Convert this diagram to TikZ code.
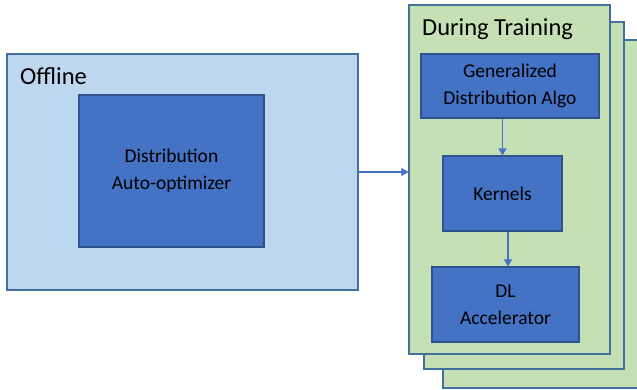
\documentclass[tikz,border=0pt]{standalone}
\usepackage{fontspec}
\setmainfont{Carlito}
\usetikzlibrary{arrows.meta}
\definecolor{lightblue}{HTML}{BDD7EE}
\definecolor{darkblue}{HTML}{4472C4}
\definecolor{edgeblue}{HTML}{41719C}
\definecolor{boxedge}{HTML}{2F528F}
\definecolor{lightgreen}{HTML}{C5E0B4}
\tikzset{
  panel/.style={draw=edgeblue, line width=1.1pt, fill=lightgreen, inner sep=0pt},
  offpanel/.style={draw=edgeblue, line width=1.1pt, fill=lightblue, inner sep=0pt},
  dbox/.style={draw=boxedge, line width=1.1pt, fill=darkblue, inner sep=0pt, align=center,
    font=\fontsize{19.5}{26.7}\selectfont, text=black},
  title/.style={font=\fontsize{24.5}{29}\selectfont, text=black, inner sep=0pt},
  arr/.style={draw=darkblue, line width=1.1pt, -{Triangle[length=7pt,width=8pt]}}
}
\begin{document}
\begin{tikzpicture}[x=1pt,y=-1pt]
\useasboundingbox (0,0) rectangle (637,389);
\clip (0,0) rectangle (637,389);
% stacked training panels
\node[panel, minimum width=220pt, minimum height=348pt] (back) at (553,214) {};
\node[panel, minimum width=200pt, minimum height=347pt] (mid) at (524,195.5) {};
\node[panel, minimum width=201pt, minimum height=349pt] (front) at (509.5,179.5) {};
\node[title, anchor=base west] (ttl) at (422,35) {During Training};
% offline panel
\node[offpanel, minimum width=351pt, minimum height=236pt] (offline) at (182.5,172) {};
\node[title, anchor=base west] (offttl) at (20,84) {Offline};
\node[dbox, minimum width=185pt, minimum height=152pt] (opt) at (171.5,171) {Distribution\\Auto-optimizer};
% training boxes
\node[dbox, minimum width=178pt, minimum height=64pt] (algo) at (510,86) {Generalized\\Distribution Algo};
\node[dbox, minimum width=119pt, minimum height=75pt] (kern) at (502.5,193.5) {Kernels};
\node[dbox, minimum width=147pt, minimum height=75pt] (acc) at (505.5,304.5) {DL\\Accelerator};
% connectors
\draw[arr] (offline.east) -- (offline.east -| front.west);
\draw[arr] (algo.south -| kern.north) -- (kern.north);
\draw[arr] ([xshift=5.5pt]kern.south) -- ([xshift=5.5pt]kern.south |- acc.north);
\end{tikzpicture}
\end{document}
